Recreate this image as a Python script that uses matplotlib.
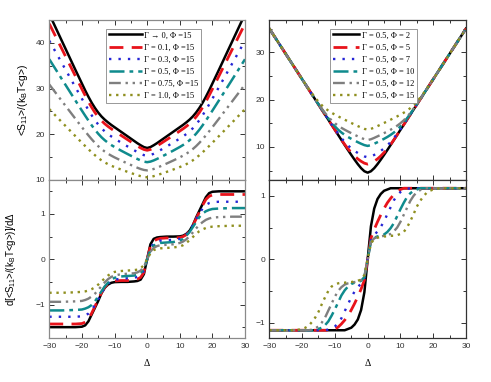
import matplotlib
matplotlib.use("Agg")
import matplotlib.pyplot as plt
from matplotlib.ticker import MultipleLocator

# ======================
# Data
# ======================
# Left column: Phi = 15, varying Gamma
delta_left = [-30, -26, -22, -20, -19, -18, -17, -16, -15, -14, -13, -12, -11, -10, -8, -6, -4, -3, -2, -1,
              0, 1, 2, 3, 4, 6, 8, 10, 11, 12, 13, 14, 15, 16, 17, 18, 19, 20, 22, 26, 30]
labels_left = ["Γ → 0, Φ =15", "Γ = 0.1, Φ =15", "Γ = 0.3, Φ =15",
               "Γ = 0.5, Φ =15", "Γ = 0.75, Φ =15", "Γ = 1.0, Φ =15"]

s_gamma_0 = [46.3, 40.2, 34.1, 31.1, 29.6, 28.2, 26.9, 25.75, 24.75, 23.9, 23.2, 22.6, 22.05, 21.55, 20.55, 19.55, 18.55, 18.05, 17.6, 17.2,
             17.0, 17.2, 17.6, 18.05, 18.55, 19.55, 20.55, 21.55, 22.05, 22.6, 23.2, 23.9, 24.75, 25.75, 26.9, 28.2, 29.6, 31.1, 34.1, 40.2, 46.3]
s_gamma_01 = [44.18, 38.46, 32.74, 29.89, 28.49, 27.13, 25.88, 24.76, 23.8, 22.98, 22.3, 21.72, 21.2, 20.71, 19.76, 18.82, 17.89, 17.44, 17.02, 16.67,
              16.5, 16.67, 17.02, 17.44, 17.89, 18.82, 19.76, 20.71, 21.2, 21.72, 22.3, 22.98, 23.8, 24.76, 25.88, 27.13, 28.49, 29.89, 32.74, 38.46, 44.18]
s_gamma_03 = [40.47, 35.39, 30.31, 27.78, 26.53, 25.31, 24.15, 23.08, 22.14, 21.32, 20.63, 20.05, 19.54, 19.07, 18.19, 17.34, 16.51, 16.11, 15.74, 15.44,
              15.3, 15.44, 15.74, 16.11, 16.51, 17.34, 18.19, 19.07, 19.54, 20.05, 20.63, 21.32, 22.14, 23.08, 24.15, 25.31, 26.53, 27.78, 30.31, 35.39, 40.47]
s_gamma_05 = [36.42, 31.9, 27.4, 25.17, 24.07, 23.0, 21.96, 20.99, 20.12, 19.35, 18.7, 18.14, 17.65, 17.22, 16.43, 15.68, 14.95, 14.6, 14.28, 14.02,
              13.9, 14.02, 14.28, 14.6, 14.95, 15.68, 16.43, 17.22, 17.65, 18.14, 18.7, 19.35, 20.12, 20.99, 21.96, 23.0, 24.07, 25.17, 27.4, 31.9, 36.42]
s_gamma_075 = [30.9, 27.14, 23.4, 21.55, 20.64, 19.76, 18.91, 18.12, 17.4, 16.77, 16.22, 15.74, 15.33, 14.95, 14.26, 13.61, 12.98, 12.68, 12.41, 12.2,
               12.1, 12.2, 12.41, 12.68, 12.98, 13.61, 14.26, 14.95, 15.33, 15.74, 16.22, 16.77, 17.4, 18.12, 18.91, 19.76, 20.64, 21.55, 23.4, 27.14, 30.9]
s_gamma_1 = [25.5, 22.54, 19.6, 18.15, 17.43, 16.73, 16.06, 15.42, 14.83, 14.3, 13.85, 13.46, 13.12, 12.83, 12.29, 11.78, 11.29, 11.05, 10.84, 10.67,
             10.6, 10.67, 10.84, 11.05, 11.29, 11.78, 12.29, 12.83, 13.12, 13.46, 13.85, 14.3, 14.83, 15.42, 16.06, 16.73, 17.43, 18.15, 19.6, 22.54, 25.5]

ds_gamma_0 = [-1.5, -1.5, -1.5, -1.49, -1.46, -1.37, -1.22, -1.07, -0.92, -0.75, -0.63, -0.56, -0.52, -0.505, -0.5, -0.5, -0.49, -0.48, -0.45, -0.33,
              0.0, 0.33, 0.45, 0.48, 0.49, 0.5, 0.5, 0.505, 0.52, 0.56, 0.63, 0.75, 0.92, 1.07, 1.22, 1.37, 1.46, 1.49, 1.5, 1.5, 1.5]
ds_gamma_01 = [-1.43, -1.43, -1.43, -1.42, -1.39, -1.32, -1.19, -1.04, -0.89, -0.74, -0.62, -0.54, -0.5, -0.48, -0.47, -0.47, -0.46, -0.44, -0.4, -0.29,
               0.0, 0.29, 0.4, 0.44, 0.46, 0.47, 0.47, 0.48, 0.5, 0.54, 0.62, 0.74, 0.89, 1.04, 1.19, 1.32, 1.39, 1.42, 1.43, 1.43, 1.43]
ds_gamma_03 = [-1.27, -1.27, -1.27, -1.26, -1.24, -1.2, -1.12, -1.01, -0.88, -0.75, -0.63, -0.54, -0.48, -0.45, -0.43, -0.42, -0.41, -0.39, -0.35, -0.25,
               0.0, 0.25, 0.35, 0.39, 0.41, 0.42, 0.43, 0.45, 0.48, 0.54, 0.63, 0.75, 0.88, 1.01, 1.12, 1.2, 1.24, 1.26, 1.27, 1.27, 1.27]
ds_gamma_05 = [-1.13, -1.13, -1.12, -1.11, -1.09, -1.06, -1.01, -0.93, -0.82, -0.71, -0.6, -0.52, -0.45, -0.41, -0.38, -0.37, -0.36, -0.34, -0.3, -0.21,
               0.0, 0.21, 0.3, 0.34, 0.36, 0.37, 0.38, 0.41, 0.45, 0.52, 0.6, 0.71, 0.82, 0.93, 1.01, 1.06, 1.09, 1.11, 1.12, 1.13, 1.13]
ds_gamma_075 = [-0.94, -0.94, -0.93, -0.92, -0.9, -0.87, -0.82, -0.76, -0.68, -0.59, -0.51, -0.44, -0.39, -0.36, -0.33, -0.32, -0.31, -0.29, -0.25, -0.17,
                0.0, 0.17, 0.25, 0.29, 0.31, 0.32, 0.33, 0.36, 0.39, 0.44, 0.51, 0.59, 0.68, 0.76, 0.82, 0.87, 0.9, 0.92, 0.93, 0.94, 0.94]
ds_gamma_1 = [-0.74, -0.74, -0.73, -0.72, -0.71, -0.69, -0.66, -0.62, -0.56, -0.49, -0.42, -0.36, -0.31, -0.28, -0.26, -0.25, -0.24, -0.23, -0.2, -0.13,
              0.0, 0.13, 0.2, 0.23, 0.24, 0.25, 0.26, 0.28, 0.31, 0.36, 0.42, 0.49, 0.56, 0.62, 0.66, 0.69, 0.71, 0.72, 0.73, 0.74, 0.74]

# Right column: Gamma = 0.5, varying Phi
delta_right = [-30, -26, -22, -20, -19, -18, -17, -16, -15, -14, -13, -12, -11, -10, -9, -8, -7, -6, -5, -4, -3, -2, -1,
               0, 1, 2, 3, 4, 5, 6, 7, 8, 9, 10, 11, 12, 13, 14, 15, 16, 17, 18, 19, 20, 22, 26, 30]
labels_right = ["Γ = 0.5, Φ = 2", "Γ = 0.5, Φ = 5", "Γ = 0.5, Φ = 7",
                "Γ = 0.5, Φ = 10", "Γ = 0.5, Φ = 12", "Γ = 0.5, Φ = 15"]

s_phi_2 = [35.0, 30.72, 26.44, 24.3, 23.23, 22.16, 21.09, 20.02, 18.95, 17.88, 16.81, 15.74, 14.67, 13.6, 12.53, 11.46, 10.39, 9.33, 8.3, 7.3, 6.35, 5.5, 4.85,
           4.55, 4.85, 5.5, 6.35, 7.3, 8.3, 9.33, 10.39, 11.46, 12.53, 13.6, 14.67, 15.74, 16.81, 17.88, 18.95, 20.02, 21.09, 22.16, 23.23, 24.3, 26.44, 30.72, 35.0]
s_phi_5 = [35.0, 30.72, 26.44, 24.3, 23.23, 22.16, 21.09, 20.02, 18.95, 17.88, 16.81, 15.74, 14.68, 13.62, 12.55, 11.5, 10.5, 9.6, 8.8, 8.07, 7.45, 6.95, 6.55,
           6.35, 6.55, 6.95, 7.45, 8.07, 8.8, 9.6, 10.5, 11.5, 12.55, 13.62, 14.68, 15.74, 16.81, 17.88, 18.95, 20.02, 21.09, 22.16, 23.23, 24.3, 26.44, 30.72, 35.0]
s_phi_7 = [35.0, 30.72, 26.44, 24.3, 23.23, 22.16, 21.09, 20.02, 18.95, 17.88, 16.81, 15.78, 14.75, 13.75, 12.78, 11.86, 11.03, 10.3, 9.68, 9.15, 8.7, 8.3, 7.98,
           7.8, 7.98, 8.3, 8.7, 9.15, 9.68, 10.3, 11.03, 11.86, 12.78, 13.75, 14.75, 15.78, 16.81, 17.88, 18.95, 20.02, 21.09, 22.16, 23.23, 24.3, 26.44, 30.72, 35.0]
s_phi_10 = [35.0, 30.72, 26.44, 24.3, 23.23, 22.16, 21.09, 20.02, 19.0, 17.98, 16.98, 16.02, 15.13, 14.33, 13.63, 13.03, 12.53, 12.09, 11.7, 11.34, 10.99, 10.66, 10.37,
            10.2, 10.37, 10.66, 10.99, 11.34, 11.7, 12.09, 12.53, 13.03, 13.63, 14.33, 15.13, 16.02, 16.98, 17.98, 19.0, 20.02, 21.09, 22.16, 23.23, 24.3, 26.44, 30.72, 35.0]
s_phi_12 = [35.0, 30.72, 26.44, 24.3, 23.23, 22.16, 21.13, 20.08, 19.06, 18.07, 17.15, 16.33, 15.6, 14.99, 14.47, 14.02, 13.62, 13.25, 12.9, 12.55, 12.22, 11.9, 11.61,
            11.45, 11.61, 11.9, 12.22, 12.55, 12.9, 13.25, 13.62, 14.02, 14.47, 14.99, 15.6, 16.33, 17.15, 18.07, 19.06, 20.08, 21.13, 22.16, 23.23, 24.3, 26.44, 30.72, 35.0]
s_phi_15 = [35.0, 30.72, 26.44, 24.32, 23.28, 22.26, 21.29, 20.37, 19.54, 18.8, 18.18, 17.65, 17.21, 16.81, 16.44, 16.09, 15.74, 15.39, 15.05, 14.72, 14.39, 14.08, 13.8,
            13.65, 13.8, 14.08, 14.39, 14.72, 15.05, 15.39, 15.74, 16.09, 16.44, 16.81, 17.21, 17.65, 18.18, 18.8, 19.54, 20.37, 21.29, 22.26, 23.28, 24.32, 26.44, 30.72, 35.0]

ds_phi_2 = [-1.12, -1.12, -1.12, -1.12, -1.12, -1.12, -1.12, -1.12, -1.12, -1.12, -1.12, -1.12, -1.12, -1.12, -1.12, -1.12, -1.12, -1.1, -1.08, -1.03, -0.95, -0.8, -0.52,
            0.0, 0.52, 0.8, 0.95, 1.03, 1.08, 1.1, 1.12, 1.12, 1.12, 1.12, 1.12, 1.12, 1.12, 1.12, 1.12, 1.12, 1.12, 1.12, 1.12, 1.12, 1.12, 1.12, 1.12]
ds_phi_5 = [-1.12, -1.12, -1.12, -1.12, -1.12, -1.12, -1.12, -1.12, -1.12, -1.12, -1.12, -1.12, -1.12, -1.1, -1.07, -1.02, -0.96, -0.89, -0.8, -0.7, -0.59, -0.47, -0.33,
            0.0, 0.33, 0.47, 0.59, 0.7, 0.8, 0.89, 0.96, 1.02, 1.07, 1.1, 1.12, 1.12, 1.12, 1.12, 1.12, 1.12, 1.12, 1.12, 1.12, 1.12, 1.12, 1.12, 1.12]
ds_phi_7 = [-1.12, -1.12, -1.12, -1.12, -1.12, -1.12, -1.12, -1.12, -1.12, -1.12, -1.12, -1.11, -1.09, -1.06, -1.01, -0.93, -0.82, -0.71, -0.6, -0.51, -0.44, -0.38, -0.3,
            0.0, 0.3, 0.38, 0.44, 0.51, 0.6, 0.71, 0.82, 0.93, 1.01, 1.06, 1.09, 1.11, 1.12, 1.12, 1.12, 1.12, 1.12, 1.12, 1.12, 1.12, 1.12, 1.12, 1.12]
ds_phi_10 = [-1.12, -1.12, -1.12, -1.12, -1.12, -1.12, -1.12, -1.12, -1.1, -1.08, -1.04, -0.98, -0.89, -0.79, -0.68, -0.57, -0.49, -0.43, -0.39, -0.37, -0.36, -0.34, -0.28,
             0.0, 0.28, 0.34, 0.36, 0.37, 0.39, 0.43, 0.49, 0.57, 0.68, 0.79, 0.89, 0.98, 1.04, 1.08, 1.1, 1.12, 1.12, 1.12, 1.12, 1.12, 1.12, 1.12, 1.12]
ds_phi_12 = [-1.12, -1.12, -1.12, -1.12, -1.12, -1.12, -1.11, -1.09, -1.06, -1.0, -0.92, -0.81, -0.7, -0.59, -0.5, -0.44, -0.4, -0.38, -0.37, -0.36, -0.35, -0.33, -0.27,
             0.0, 0.27, 0.33, 0.35, 0.36, 0.37, 0.38, 0.4, 0.44, 0.5, 0.59, 0.7, 0.81, 0.92, 1.0, 1.06, 1.09, 1.11, 1.12, 1.12, 1.12, 1.12, 1.12, 1.12]
ds_phi_15 = [-1.12, -1.12, -1.12, -1.1, -1.08, -1.05, -0.99, -0.92, -0.83, -0.71, -0.6, -0.5, -0.43, -0.4, -0.38, -0.37, -0.37, -0.36, -0.36, -0.35, -0.34, -0.32, -0.25,
             0.0, 0.25, 0.32, 0.34, 0.35, 0.36, 0.36, 0.37, 0.37, 0.38, 0.4, 0.43, 0.5, 0.6, 0.71, 0.83, 0.92, 0.99, 1.05, 1.08, 1.1, 1.12, 1.12, 1.12]

# ======================
# Styles
# ======================
STYLES = [
    dict(color="black", ls="-", lw=1.8),
    dict(color="#e8131b", ls=(0, (5, 3)), lw=2.0),
    dict(color="#2525d5", ls=(0, (1, 3)), lw=1.7),
    dict(color="#0f8b8d", ls=(0, (6, 2, 1.5, 2)), lw=1.8),
    dict(color="#7f7f7f", ls=(0, (5, 2, 1, 2, 1, 2)), lw=1.7),
    dict(color="#8f8f1f", ls=(0, (1, 2)), lw=1.7),
]
SERIF = ["Liberation Serif", "DejaVu Serif"]

plt.rcParams["font.family"] = ["Liberation Sans", "DejaVu Sans"]
plt.rcParams["mathtext.default"] = "regular"

fig = plt.figure(figsize=(4.91, 3.82), dpi=100)
ax_tl = fig.add_axes([0.1004, 0.5288, 0.3986, 0.4188])
ax_tr = fig.add_axes([0.5485, 0.5288, 0.4006, 0.4188])
ax_bl = fig.add_axes([0.1004, 0.1139, 0.3986, 0.4149])
ax_br = fig.add_axes([0.5485, 0.1139, 0.4006, 0.4149])

for ys, lab, st in zip([s_gamma_0, s_gamma_01, s_gamma_03, s_gamma_05, s_gamma_075, s_gamma_1], labels_left, STYLES):
    ax_tl.plot(delta_left, ys, label=lab, **st)
for ys, st in zip([ds_gamma_0, ds_gamma_01, ds_gamma_03, ds_gamma_05, ds_gamma_075, ds_gamma_1], STYLES):
    ax_bl.plot(delta_left, ys, **st)
for ys, lab, st in zip([s_phi_2, s_phi_5, s_phi_7, s_phi_10, s_phi_12, s_phi_15], labels_right, STYLES):
    ax_tr.plot(delta_right, ys, label=lab, **st)
for ys, st in zip([ds_phi_2, ds_phi_5, ds_phi_7, ds_phi_10, ds_phi_12, ds_phi_15], STYLES):
    ax_br.plot(delta_right, ys, **st)

# ---------- axes cosmetics ----------
for ax, spine_col in [(ax_tl, "#8a8a8a"), (ax_bl, "#8a8a8a"), (ax_tr, "#333333"), (ax_br, "#333333")]:
    ax.set_xlim(-30, 30)
    ax.xaxis.set_major_locator(MultipleLocator(10))
    ax.xaxis.set_minor_locator(MultipleLocator(5))
    ax.tick_params(which="both", direction="in", top=True, right=True,
                   labelsize=6, labelcolor="#333333", color="#333333", width=0.7)
    ax.tick_params(which="major", length=3.5, pad=3)
    ax.tick_params(which="minor", length=2)
    for sp in ax.spines.values():
        sp.set_color(spine_col)
        sp.set_linewidth(0.9)

for ax in (ax_tl, ax_tr):
    ax.tick_params(labelbottom=False)
    ax.yaxis.set_major_locator(MultipleLocator(10))
    ax.yaxis.set_minor_locator(MultipleLocator(5))
for ax in (ax_bl, ax_br):
    ax.yaxis.set_major_locator(MultipleLocator(1))
    ax.yaxis.set_minor_locator(MultipleLocator(0.5))
    ax.set_xlabel("Δ", family=SERIF, fontsize=7, labelpad=7)

ax_tl.set_ylim(10, 45)
ax_tr.set_ylim(3, 36.8)
ax_bl.set_ylim(-1.75, 1.75)
ax_br.set_ylim(-1.25, 1.25)

ax_tl.set_ylabel(r"<S$_{11}$>/(k$_B$T<g>)", fontsize=7.5)
ax_tl.yaxis.set_label_coords(-0.10, 0.5)
ax_bl.set_ylabel(r"d[<S$_{11}$>/(k$_B$T<g>)]/d$\Delta$", fontsize=7)
ax_bl.yaxis.set_label_coords(-0.16, 0.5)

leg_kw = dict(loc="upper left", prop={"family": SERIF, "size": 6}, frameon=True, fancybox=False,
              edgecolor="#888888", framealpha=1, handletextpad=0.3,
              borderpad=0.3, labelspacing=0.5, borderaxespad=0)
leg = ax_tl.legend(bbox_to_anchor=(0.29, 0.945), handlelength=4.0, **leg_kw)
leg.get_frame().set_linewidth(0.6)
leg = ax_tr.legend(bbox_to_anchor=(0.31, 0.945), handlelength=3.2, **leg_kw)
leg.get_frame().set_linewidth(0.6)

fig.savefig("out.png", dpi=100)
